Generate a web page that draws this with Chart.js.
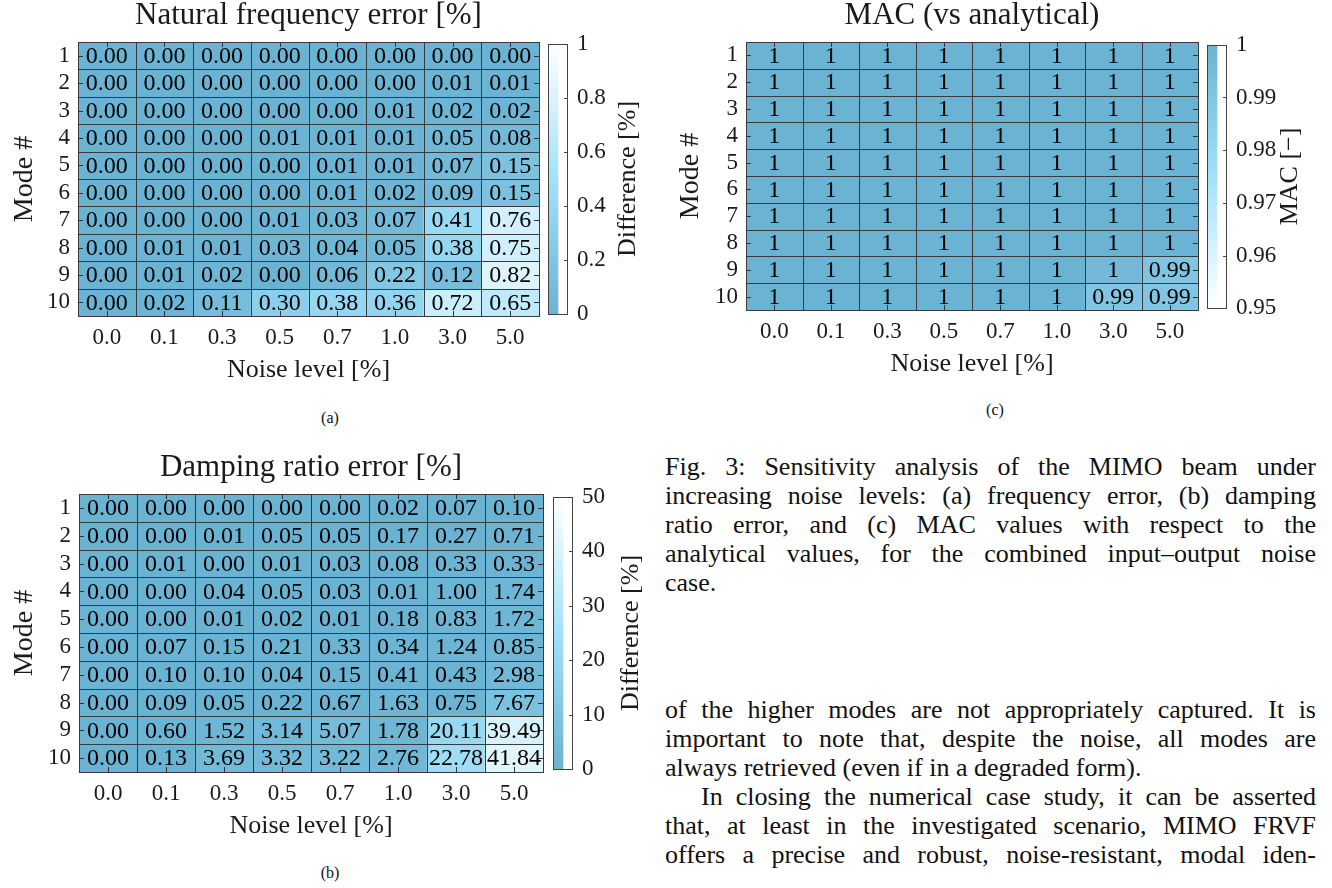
<!DOCTYPE html>
<html>
<head>
<meta charset="utf-8">
<script src="https://cdn.jsdelivr.net/npm/chart.js@4.4.1/dist/chart.umd.min.js"></script>
<style>
  body { margin: 0; background: #fff; width: 1332px; height: 888px; overflow: hidden; position: relative;
         font-family: "Liberation Serif", "DejaVu Serif", serif; color: #111; }
  canvas { position: absolute; }
  .ln { position: absolute; left: 665px; width: 651px; height: 29px; line-height: 29px; font-size: 26px;
        text-align: justify; text-align-last: justify; }
  .ln.last { text-align-last: left; }
  .sub { position: absolute; font-size: 16px; transform: translate(-50%, -50%); }
</style>
</head>
<body>
<div class="sub" style="left:330px;top:418px">(a)</div>
<div class="sub" style="left:330px;top:873px">(b)</div>
<div class="sub" style="left:995px;top:410px">(c)</div>

<div class="ln" style="top:452px">Fig. 3: Sensitivity analysis of the MIMO beam under</div>
<div class="ln" style="top:481px">increasing noise levels: (a) frequency error, (b) damping</div>
<div class="ln" style="top:510px">ratio error, and (c) MAC values with respect to the</div>
<div class="ln" style="top:539px">analytical values, for the combined input–output noise</div>
<div class="ln last" style="top:568px">case.</div>

<div class="ln" style="top:695px">of the higher modes are not appropriately captured. It is</div>
<div class="ln" style="top:724px">important to note that, despite the noise, all modes are</div>
<div class="ln last" style="top:753px">always retrieved (even if in a degraded form).</div>
<div class="ln" style="top:782px;left:701px;width:615px">In closing the numerical case study, it can be asserted</div>
<div class="ln" style="top:811px">that, at least in the investigated scenario, MIMO FRVF</div>
<div class="ln" style="top:840px">offers a precise and robust, noise-resistant, modal iden-</div>

<script>
// ----- data -----
const noiseLevels = ['0.0', '0.1', '0.3', '0.5', '0.7', '1.0', '3.0', '5.0'];
const modes = [1, 2, 3, 4, 5, 6, 7, 8, 9, 10];

const freqError = [
  [0.00, 0.00, 0.00, 0.00, 0.00, 0.00, 0.00, 0.00],
  [0.00, 0.00, 0.00, 0.00, 0.00, 0.00, 0.01, 0.01],
  [0.00, 0.00, 0.00, 0.00, 0.00, 0.01, 0.02, 0.02],
  [0.00, 0.00, 0.00, 0.01, 0.01, 0.01, 0.05, 0.08],
  [0.00, 0.00, 0.00, 0.00, 0.01, 0.01, 0.07, 0.15],
  [0.00, 0.00, 0.00, 0.00, 0.01, 0.02, 0.09, 0.15],
  [0.00, 0.00, 0.00, 0.01, 0.03, 0.07, 0.41, 0.76],
  [0.00, 0.01, 0.01, 0.03, 0.04, 0.05, 0.38, 0.75],
  [0.00, 0.01, 0.02, 0.00, 0.06, 0.22, 0.12, 0.82],
  [0.00, 0.02, 0.11, 0.30, 0.38, 0.36, 0.72, 0.65]
];

const dampError = [
  [0.00, 0.00, 0.00, 0.00, 0.00, 0.02, 0.07, 0.10],
  [0.00, 0.00, 0.01, 0.05, 0.05, 0.17, 0.27, 0.71],
  [0.00, 0.01, 0.00, 0.01, 0.03, 0.08, 0.33, 0.33],
  [0.00, 0.00, 0.04, 0.05, 0.03, 0.01, 1.00, 1.74],
  [0.00, 0.00, 0.01, 0.02, 0.01, 0.18, 0.83, 1.72],
  [0.00, 0.07, 0.15, 0.21, 0.33, 0.34, 1.24, 0.85],
  [0.00, 0.10, 0.10, 0.04, 0.15, 0.41, 0.43, 2.98],
  [0.00, 0.09, 0.05, 0.22, 0.67, 1.63, 0.75, 7.67],
  [0.00, 0.60, 1.52, 3.14, 5.07, 1.78, 20.11, 39.49],
  [0.00, 0.13, 3.69, 3.32, 3.22, 2.76, 22.78, 41.84]
];

const macValues = [
  [1, 1, 1, 1, 1, 1, 1, 1],
  [1, 1, 1, 1, 1, 1, 1, 1],
  [1, 1, 1, 1, 1, 1, 1, 1],
  [1, 1, 1, 1, 1, 1, 1, 1],
  [1, 1, 1, 1, 1, 1, 1, 1],
  [1, 1, 1, 1, 1, 1, 1, 1],
  [1, 1, 1, 1, 1, 1, 1, 1],
  [1, 1, 1, 1, 1, 1, 1, 1],
  [1, 1, 1, 1, 1, 1, 0.996, 0.991],
  [1, 1, 1, 1, 1, 1, 0.990, 0.990]
];

const freqTicks = [0, 0.2, 0.4, 0.6, 0.8, 1];
const dampTicks = [0, 10, 20, 30, 40, 50];
const macTicks = [0.95, 0.96, 0.97, 0.98, 0.99, 1];

// ----- style -----
const SERIF = '"Liberation Serif", "DejaVu Serif", serif';
const INK = '#1a1a1a';
const LINE = '#3a3a3a';
Chart.defaults.font.family = SERIF;
Chart.defaults.color = INK;

const cmapStops = [[107, 179, 210], [162, 225, 250], [255, 255, 255]];
function cmap(t) {
  t = Math.min(1, Math.max(0, t));
  const s = t < 0.5 ? 0 : 1;
  const u = (t - s * 0.5) / 0.5;
  const a = cmapStops[s], b = cmapStops[s + 1];
  const c = a.map((v, i) => Math.round(v + (b[i] - v) * u));
  return `rgb(${c[0]},${c[1]},${c[2]})`;
}

const fmt2 = v => v.toFixed(2);
const fmtMac = v => { const r = Math.round(v * 100) / 100; return r === 1 ? '1' : r.toFixed(2); };

const panels = [
  { values: freqError, fmt: fmt2, vmin: 0, vmax: 1, flip: false, cbTicks: freqTicks,
    title: 'Natural frequency error [%]', cbLabel: 'Difference [%]',
    area: { l: 78, r: 539, t: 42, b: 316 }, cb: { l: 548, r: 568, t: 41, b: 317 },
    canvasLeft: 0, yTitlePad: 8, cbLabelX: 628 },
  { values: dampError, fmt: fmt2, vmin: 0, vmax: 50, flip: false, cbTicks: dampTicks,
    title: 'Damping ratio error [%]', cbLabel: 'Difference [%]',
    area: { l: 79, r: 543, t: 494, b: 772 }, cb: { l: 553, r: 573, t: 494, b: 772 },
    canvasLeft: 0, yTitlePad: 8, cbLabelX: 631 },
  { values: macValues, fmt: fmtMac, vmin: 0.95, vmax: 1, flip: true, cbTicks: macTicks,
    title: 'MAC (vs analytical)', cbLabel: 'MAC [−]',
    area: { l: 746, r: 1198, t: 42, b: 310 }, cb: { l: 1207, r: 1227, t: 42, b: 311 },
    canvasLeft: 660, yTitlePad: 14, cbLabelX: 1290 }
];

function norm(p, v) {
  const t = (v - p.vmin) / (p.vmax - p.vmin);
  return p.flip ? 1 - t : t;
}

function addCanvas(left, top, w, h) {
  const cv = document.createElement('canvas');
  cv.width = w; cv.height = h;
  cv.style.left = left + 'px'; cv.style.top = top + 'px';
  cv.style.width = w + 'px'; cv.style.height = h + 'px';
  document.body.appendChild(cv);
  return cv;
}

// cell outlines, inward ticks and value labels
const heatCells = {
  id: 'heatCells',
  afterDatasetsDraw(chart, args, opts) {
    const ctx = chart.ctx;
    const area = chart.chartArea;
    const xs = chart.scales.x, ys = chart.scales.y;
    ctx.save();
    ctx.strokeStyle = LINE;
    ctx.lineWidth = 1;
    chart.data.datasets.forEach((ds, i) => {
      chart.getDatasetMeta(i).data.forEach(el => {
        const { x, y, base, width } = el.getProps(['x', 'y', 'base', 'width'], true);
        const x0 = Math.round(x - width / 2), x1 = Math.round(x + width / 2);
        const y0 = Math.round(Math.min(y, base)), y1 = Math.round(Math.max(y, base));
        ctx.strokeRect(x0 + 0.5, y0 + 0.5, x1 - x0, y1 - y0);
      });
    });
    // inward ticks
    ctx.strokeStyle = '#333';
    ctx.beginPath();
    ys.ticks.forEach(tk => {
      const py = Math.round(ys.getPixelForValue(tk.value)) + 0.5;
      ctx.moveTo(area.left, py); ctx.lineTo(area.left + 5, py);
      ctx.moveTo(area.right - 5, py); ctx.lineTo(area.right, py);
    });
    xs.ticks.forEach((tk, i) => {
      const px = Math.round(xs.getPixelForValue(i)) + 0.5;
      ctx.moveTo(px, area.top); ctx.lineTo(px, area.top + 5);
      ctx.moveTo(px, area.bottom - 5); ctx.lineTo(px, area.bottom);
    });
    ctx.stroke();
    // values
    ctx.fillStyle = '#000';
    ctx.font = `24px ${SERIF}`;
    ctx.textAlign = 'center';
    ctx.textBaseline = 'middle';
    chart.data.datasets.forEach((ds, i) => {
      chart.getDatasetMeta(i).data.forEach((el, j) => {
        const { x, y, base } = el.getProps(['x', 'y', 'base'], true);
        ctx.fillText(opts.fmt(opts.values[i][j]), x, (y + base) / 2 + 1);
      });
    });
    ctx.restore();
  }
};

const colorbarFrame = {
  id: 'colorbarFrame',
  afterDatasetsDraw(chart, args, opts) {
    const ctx = chart.ctx;
    const area = chart.chartArea;
    const ys = chart.scales.y;
    ctx.save();
    ctx.strokeStyle = '#444';
    ctx.lineWidth = 1;
    ctx.strokeRect(Math.round(area.left) + 0.5, Math.round(area.top) + 0.5,
                   Math.round(area.right - area.left) - 1, Math.round(area.bottom - area.top));
    ctx.beginPath();
    ys.ticks.forEach(tk => {
      const py = Math.round(ys.getPixelForValue(tk.value)) + 0.5;
      ctx.moveTo(area.right - 4, py); ctx.lineTo(area.right, py);
    });
    ctx.stroke();
    ctx.translate(opts.labelX, (area.top + area.bottom) / 2);
    ctx.rotate(-Math.PI / 2);
    ctx.fillStyle = INK;
    ctx.font = `26px ${SERIF}`;
    ctx.textAlign = 'center';
    ctx.textBaseline = 'middle';
    ctx.fillText(opts.label, 0, 0);
    ctx.restore();
  }
};

function makeHeatmap(p) {
  const left = p.canvasLeft, top = p.area.t - 42;
  const w = p.area.r + 4 - left, h = p.area.b + 72 - top;
  const cv = addCanvas(left, top, w, h);
  const yAxisW = p.area.l - left;

  const datasets = modes.map((m, r) => ({
    label: 'Mode ' + m,
    data: noiseLevels.map(() => [m - 0.5, m + 0.5]),
    backgroundColor: p.values[r].map(v => cmap(norm(p, v))),
    borderWidth: 0,
    grouped: false,
    barPercentage: 1,
    categoryPercentage: 1
  }));

  new Chart(cv, {
    type: 'bar',
    data: { labels: noiseLevels, datasets: datasets },
    options: {
      responsive: false,
      animation: false,
      devicePixelRatio: 1,
      events: [],
      layout: { padding: { top: 0, right: 4, bottom: 0, left: 0 } },
      plugins: {
        legend: { display: false },
        tooltip: { enabled: false },
        title: {
          display: true, text: p.title, fullSize: false, color: INK,
          font: { family: SERIF, size: 31, weight: 'normal', lineHeight: 1 },
          padding: { top: 0, bottom: 11 }
        },
        heatCells: { values: p.values, fmt: p.fmt }
      },
      scales: {
        x: {
          type: 'category',
          offset: true,
          grid: { display: false, drawTicks: false },
          border: { display: false },
          ticks: { font: { size: 23 }, color: INK, padding: 8, autoSkip: false, maxRotation: 0 },
          title: { display: true, text: 'Noise level [%]', color: INK, font: { size: 26 }, padding: { top: 0, bottom: 2 } },
          afterFit: s => { s.height = 72; }
        },
        y: {
          type: 'linear',
          min: 0.5, max: 10.5,
          reverse: true,
          afterBuildTicks: s => { s.ticks = modes.map(v => ({ value: v })); },
          grid: { display: false, drawTicks: false },
          border: { display: false },
          ticks: { font: { size: 23 }, color: INK, padding: 8, autoSkip: false, callback: v => String(v) },
          title: { display: true, text: 'Mode #', color: INK, font: { size: 28 }, padding: { top: p.yTitlePad } },
          afterFit: s => { s.width = yAxisW; }
        }
      }
    },
    plugins: [heatCells]
  });
}

function makeColorbar(p) {
  const w = 110, left = p.cb.l, top = p.cb.t - 20;
  const h = p.cb.b - p.cb.t + 40;
  const cv = addCanvas(left, top, w, h);

  new Chart(cv, {
    type: 'bar',
    data: {
      labels: [''],
      datasets: [{
        data: [[p.vmin, p.vmax]],
        barPercentage: 1,
        categoryPercentage: 1,
        borderWidth: 0,
        backgroundColor: ctx => {
          const chart = ctx.chart;
          if (!chart.chartArea) return cmap(0);
          const ys = chart.scales.y;
          const g = chart.ctx.createLinearGradient(0, ys.getPixelForValue(p.vmin), 0, ys.getPixelForValue(p.vmax));
          for (let k = 0; k <= 20; k++) {
            const s = k / 20;
            g.addColorStop(s, cmap(norm(p, p.vmin + s * (p.vmax - p.vmin))));
          }
          return g;
        }
      }]
    },
    options: {
      responsive: false,
      animation: false,
      devicePixelRatio: 1,
      events: [],
      layout: { padding: { top: 20, bottom: 20, left: 0, right: 0 } },
      plugins: {
        legend: { display: false },
        tooltip: { enabled: false },
        colorbarFrame: { label: p.cbLabel, labelX: p.cbLabelX - p.cb.l }
      },
      scales: {
        x: { display: false, offset: false },
        y: {
          position: 'right',
          min: p.vmin, max: p.vmax,
          afterBuildTicks: s => { s.ticks = p.cbTicks.map(v => ({ value: v })); },
          grid: { display: false, drawTicks: false },
          border: { display: false },
          ticks: { font: { size: 23 }, color: INK, padding: 9, autoSkip: false, callback: v => String(v) },
          afterFit: s => { s.width = w - (p.cb.r - p.cb.l); }
        }
      }
    },
    plugins: [colorbarFrame]
  });
}

panels.forEach(p => { makeHeatmap(p); makeColorbar(p); });
</script>
</body>
</html>
